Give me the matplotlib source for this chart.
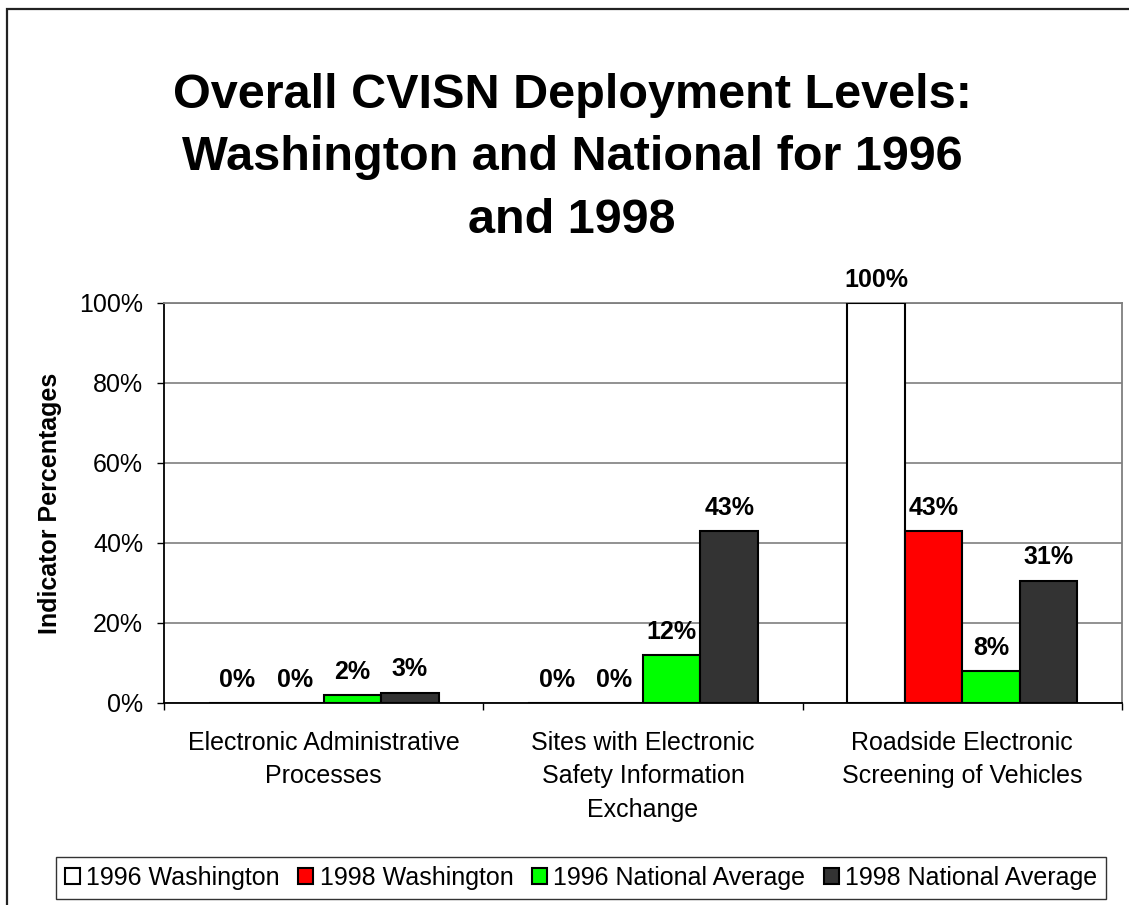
import matplotlib
matplotlib.use("Agg")
import matplotlib.pyplot as plt
from matplotlib.patches import Rectangle
import numpy as np

plt.rcParams['font.family'] = ['Liberation Sans', 'DejaVu Sans']

categories = ['Electronic Administrative\nProcesses',
              'Sites with Electronic\nSafety Information\nExchange',
              'Roadside Electronic\nScreening of Vehicles']
series_names = ['1996 Washington', '1998 Washington',
                '1996 National Average', '1998 National Average']
wa_1996 = [0, 0, 100]
wa_1998 = [0, 0, 43]
nat_1996 = [2, 12, 8]
nat_1998 = [2.6, 43, 30.6]
series_values = [wa_1996, wa_1998, nat_1996, nat_1998]
colors = ['#ffffff', '#ff0000', '#00ff00', '#333333']
yticks = [0, 20, 40, 60, 80, 100]


def make_chart():
    fig = plt.figure(figsize=(11.29, 9.05), dpi=100)
    ax = fig.add_axes([164/1129, 1 - 703/905, 958/1129, 400/905])

    x = np.arange(len(categories))
    width = 0.18
    offsets = (np.arange(4) - 1.5) * width
    handles = []
    for vals, name, col, off in zip(series_values, series_names, colors, offsets):
        bars = ax.bar(x + off, vals, width, color=col, edgecolor='black',
                      linewidth=1.5, label=name, zorder=3)
        handles.append(bars)
        for b, v in zip(bars, vals):
            ax.annotate(f'{round(v):d}%', (b.get_x() + b.get_width()/2, v),
                        xytext=(0, 8), textcoords='offset points',
                        ha='center', va='bottom', fontsize=18,
                        fontweight='bold', annotation_clip=False)

    ax.set_xlim(-0.5, 2.5)
    ax.set_ylim(0, 100)
    ax.set_yticks(yticks)
    ax.set_yticklabels([f'{t}%' for t in yticks], fontsize=18)
    ax.yaxis.grid(True, color='#7f7f7f', linewidth=1.2, zorder=0)
    ax.set_axisbelow(True)

    ax.set_xticks([-0.5, 0.5, 1.5, 2.5])
    ax.set_xticklabels([])
    ax.set_xticks(x, minor=True)
    ax.set_xticklabels(categories, minor=True, fontsize=18, linespacing=1.5,
                       va='top')
    ax.tick_params(axis='x', which='minor', length=0, pad=20)
    ax.tick_params(axis='x', which='major', length=5, width=1, direction='out')
    ax.tick_params(axis='y', length=5, width=1, direction='out', pad=10)

    ax.spines['top'].set_color('#7f7f7f')
    ax.spines['right'].set_color('#7f7f7f')
    for s in ax.spines.values():
        s.set_linewidth(1.3)

    ax.set_ylabel('Indicator Percentages', fontsize=18, fontweight='bold',
                  labelpad=12)

    fig.text(572/1129, 1 - 158/905,
             'Overall CVISN Deployment Levels:\nWashington and National for 1996\nand 1998',
             ha='center', va='center', fontsize=35, fontweight='bold',
             linespacing=1.5)

    leg = fig.legend(handles=handles, labels=series_names, loc='center',
                     bbox_to_anchor=(581/1129, 1 - 878/905), ncol=4,
                     fontsize=18, frameon=True, fancybox=False,
                     edgecolor='black', handlelength=0.6, handleheight=0.6,
                     handletextpad=0.25, columnspacing=0.75, borderpad=0.35)
    leg.get_frame().set_linewidth(1.0)

    # outer chart frame; right and bottom edges fall off the picture
    fig.patches.append(Rectangle((7/1129, -5/905), 1130/1129, 901/905,
                                 transform=fig.transFigure, fill=False,
                                 edgecolor='#222222', linewidth=1.6))

    fig.savefig('out.png', dpi=100)


if __name__ == "__main__":
    make_chart()
